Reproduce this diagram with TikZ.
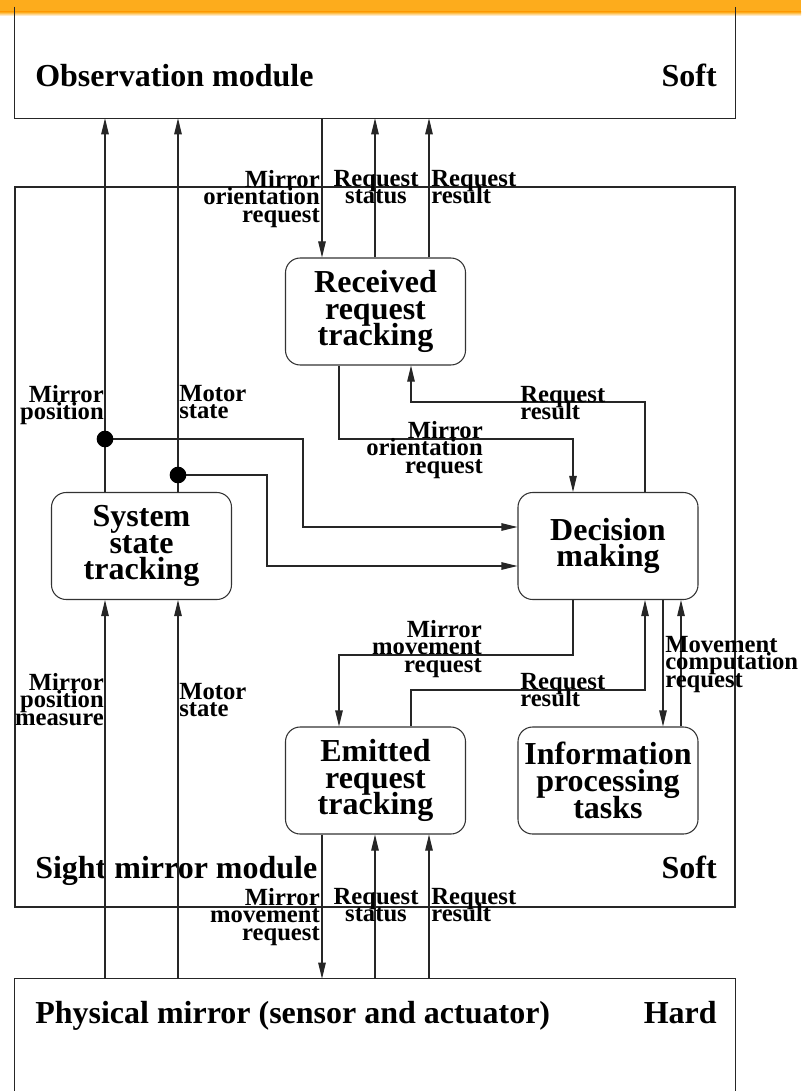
\documentclass[tikz,border=0pt]{standalone}
\usepackage{fontspec}
\setmainfont{Liberation Serif}
\usetikzlibrary{arrows.meta,calc}

\definecolor{barorange}{RGB}{253,172,28}
\newcommand\snugleading{\lineskiplimit=-50pt\relax\lineskip=0pt\relax}

\tikzset{
  wire/.style={line width=0.8pt, draw=black!85},
  arr/.style={wire, -{Triangle[length=12pt,width=5.6pt]}},
  task/.style={draw=black!80, line width=0.8pt, rounded corners=11pt,
    minimum width=135pt, minimum height=80.25pt, align=center, inner sep=0pt,
    font=\bfseries\fontsize{24}{20}\selectfont\snugleading},
  flow/.style={inner sep=0pt,
    font=\bfseries\fontsize{18.5}{13}\selectfont\snugleading},
  title/.style={inner sep=0pt, font=\bfseries\fontsize{24}{28}\selectfont},
  dot/.style={circle, fill=black, inner sep=0pt, minimum size=12.5pt},
  frame/.style={inner sep=0pt, minimum width=540pt},
}

\begin{document}
\begin{tikzpicture}[x=0.75pt,y=-0.75pt]
\useasboundingbox (0,0) rectangle (801,1091);
\clip (0,0) rectangle (801,1091);

% banner strip with a soft lower edge
\fill[barorange] (0,0) rectangle (801,12);
\shade[top color=barorange, bottom color=white] (0,12) rectangle (801,16);

% column and bend coordinates
\coordinate (lA) at (105,0);
\coordinate (lB) at (178,0);
\coordinate (cA) at (322,0);
\coordinate (cB) at (375,0);
\coordinate (cC) at (429,0);
\coordinate (kD) at (339,0);
\coordinate (kF) at (645,0);
\coordinate (kI) at (663,0);
\coordinate (kJ) at (681,0);
\coordinate (kA) at (303,527);
\coordinate (kB) at (267,566);
\coordinate (kC) at (573,439);
\coordinate (kE) at (411,402);
\coordinate (kG) at (339,655);
\coordinate (kH) at (645,690);

% module frames
\node[frame, minimum height=83.25pt] (obs) at (375,62.5) {};
\draw[wire] (obs.north west) -- (obs.south west) -- (obs.south east) -- (obs.north east);
\node[frame, minimum height=540pt, draw=black!85, line width=0.8pt] (sight) at (375,547) {};
\node[frame, minimum height=84pt] (phy) at (375,1035) {};
\draw[wire] (phy.south west) -- (phy.north west) -- (phy.north east) -- (phy.south east);

\node[title, anchor=base west] (obsname) at (35,87) {Observation module};
\node[title, anchor=base east] (obskind) at (717,87) {Soft};
\node[title, anchor=base west] (sightname) at (35,878) {Sight mirror module};
\node[title, anchor=base east] (sightkind) at (717,878) {Soft};
\node[title, anchor=base west] (phyname) at (35,1023) {Physical mirror (sensor and actuator)};
\node[title, anchor=base east] (phykind) at (717,1023) {Hard};

% tasks
\node[task] (rec) at (375.5,311.5) {Received\\request\\tracking};
\node[task] (dec) at (608,546) {Decision\\making};
\node[task] (sys) at (141.5,546) {System\\state\\tracking};
\node[task] (emi) at (375.5,780.5) {Emitted\\request\\tracking};
\node[task] (inf) at (608,780.5) {Information\\processing\\tasks};

% observation <-> received request tracking
\draw[arr] (obs.south -| cA) -- (rec.north -| cA);
\draw[arr] (rec.north -| cB) -- (obs.south -| cB);
\draw[arr] (rec.north -| cC) -- (obs.south -| cC);

% system state towards observation
\draw[arr] (sys.north -| lA) -- (obs.south -| lA);
\draw[arr] (sys.north -| lB) -- (obs.south -| lB);

% branches into decision making
\coordinate (j1) at (105,439);
\coordinate (j2) at (178,475);
\draw[arr] (j1) -| (kA) -- (dec.west |- kA);
\draw[arr] (j2) -| (kB) -- (dec.west |- kB);
\node[dot] (dot1) at (j1) {};
\node[dot] (dot2) at (j2) {};

% received <-> decision
\draw[arr] (rec.south -| kD) |- (kC) -- (dec.north -| kC);
\draw[arr] (dec.north -| kF) |- (kE) -- (rec.south -| kE);

% decision <-> emitted
\draw[arr] (dec.south -| kC) |- (kG) -- (emi.north -| kG);
\draw[arr] (emi.north -| kE) |- (kH) -- (dec.south -| kH);

% decision <-> information processing
\draw[arr] (dec.south -| kI) -- (inf.north -| kI);
\draw[arr] (inf.north -| kJ) -- (dec.south -| kJ);

% physical mirror towards system state
\draw[arr] (phy.north -| lA) -- (sys.south -| lA);
\draw[arr] (phy.north -| lB) -- (sys.south -| lB);

% emitted <-> physical mirror
\draw[arr] (emi.south -| cA) -- (phy.north -| cA);
\draw[arr] (phy.north -| cB) -- (emi.south -| cB);
\draw[arr] (phy.north -| cC) -- (emi.south -| cC);

% flow labels
\node[flow, anchor=north east, align=right] (t1) at (320,170) {Mirror\\orientation\\request};
\node[flow, anchor=north, align=center] (t2) at (376,170) {Request\\status};
\node[flow, anchor=north west, align=left] (t3) at (431,170) {Request\\result};

\node[flow, anchor=north east, align=right] (u1) at (104,385) {Mirror\\position};
\node[flow, anchor=north west, align=left] (u2) at (179,385) {Motor\\state};

\node[flow, anchor=north east, align=right] (m1) at (483,421) {Mirror\\orientation\\request};
\node[flow, anchor=north west, align=left] (m2) at (520,386) {Request\\result};
\node[flow, anchor=north east, align=right] (m3) at (482,620) {Mirror\\movement\\request};
\node[flow, anchor=north west, align=left] (m4) at (520,673) {Request\\result};
\node[flow, anchor=north west, align=left] (m5) at (665,636) {Movement\\computation\\request};

\node[flow, anchor=north east, align=right] (d1) at (104,673) {Mirror\\position\\measure};
\node[flow, anchor=north west, align=left] (d2) at (179,683) {Motor\\state};

\node[flow, anchor=north east, align=right] (b1) at (320,888) {Mirror\\movement\\request};
\node[flow, anchor=north, align=center] (b2) at (376,888) {Request\\status};
\node[flow, anchor=north west, align=left] (b3) at (431,888) {Request\\result};
\end{tikzpicture}
\end{document}
